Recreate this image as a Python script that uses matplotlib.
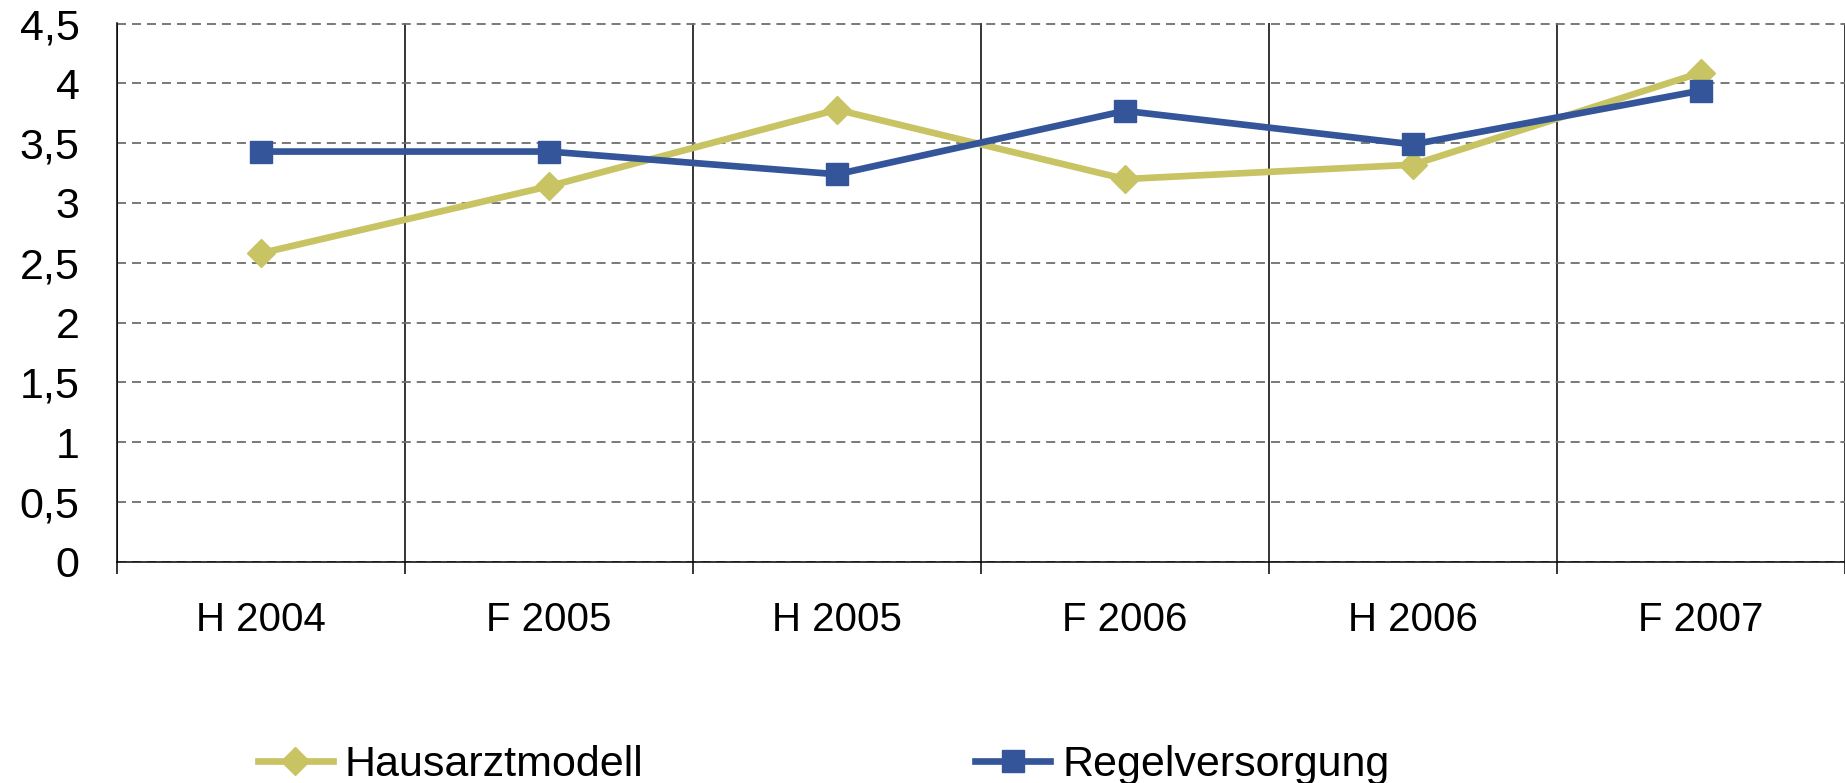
import matplotlib.pyplot as plt
import numpy as np
from matplotlib.ticker import FixedLocator, FuncFormatter

# Daten
kategorien = ["H 2004", "F 2005", "H 2005", "F 2006", "H 2006", "F 2007"]
hausarzt = [2.58, 3.14, 3.78, 3.20, 3.32, 4.09]
regel = [3.43, 3.43, 3.24, 3.77, 3.49, 3.94]
y_ticks = [0, 0.5, 1, 1.5, 2, 2.5, 3, 3.5, 4, 4.5]

plt.rcParams["font.family"] = ["Liberation Sans", "DejaVu Sans"]

fig = plt.figure(figsize=(18.45, 7.83), dpi=100)
ax = fig.add_axes([117 / 1845, 1 - 561.7 / 783, 1 - 117 / 1845, (561.7 - 23) / 783])

x = np.arange(len(kategorien)) + 0.5

ax.plot(x, hausarzt, color="#C8C464", lw=4.8, marker="D", ms=14.5,
        label="Hausarztmodell", zorder=3)
ax.plot(x, regel, color="#34559A", lw=4.8, marker="s", ms=15.5,
        label="Regelversorgung", zorder=4)

ax.set_xlim(0, len(kategorien))
ax.set_ylim(0, 4.505)

# Achsen / Ticks
ax.set_xticks(x)
ax.set_xticklabels(kategorien, fontsize=29)
ax.xaxis.set_minor_locator(FixedLocator(np.arange(0, len(kategorien) + 1)))
ax.tick_params(axis="x", which="major", length=0, pad=28)
ax.tick_params(axis="x", which="minor", length=8.6, width=1.1, color="black")

ax.set_yticks(y_ticks)
ax.yaxis.set_major_formatter(FuncFormatter(lambda v, p: f"{v:g}".replace(".", ",")))
ax.tick_params(axis="y", length=0, pad=27, labelsize=31)

ax.grid(True, axis="y", which="major", color="#6e6e6e", lw=1.3, linestyle=(0, (5, 3.3)))
ax.grid(True, axis="x", which="minor", color="black", lw=1.1, linestyle="-")
ax.set_axisbelow(True)

for s in ["top", "right"]:
    ax.spines[s].set_visible(False)
for s in ["left", "bottom"]:
    ax.spines[s].set_linewidth(1.1)
    ax.spines[s].set_color("black")

fig.legend(loc="center left", bbox_to_anchor=(258 / 1845, 1 - 765 / 783),
           ncol=2, frameon=False, fontsize=31, handlelength=1.74,
           handletextpad=0.28, columnspacing=7.7, borderpad=0,
           borderaxespad=0, numpoints=1)

fig.savefig("out.png", dpi=100)
